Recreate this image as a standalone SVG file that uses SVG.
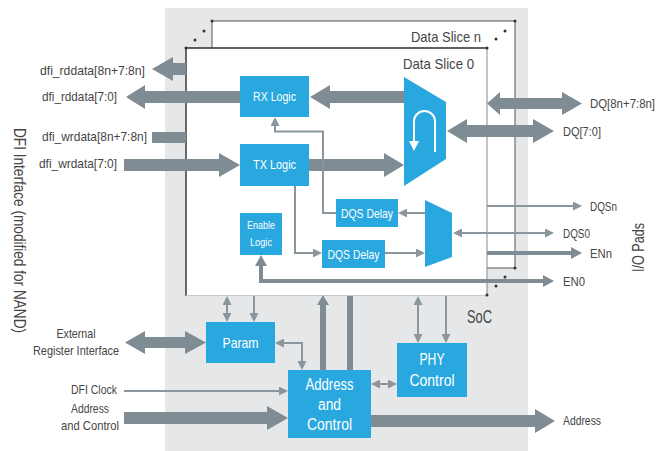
<svg xmlns="http://www.w3.org/2000/svg" width="666" height="451" viewBox="0 0 666 451">
<style>
text{font-family:"Liberation Sans",Arial,sans-serif;fill:#454545}
.w{fill:#ffffff}
.blk{fill:#29a8e0}
.big{fill:#7f8c93}
.ln{fill:none;stroke:#8a969c;stroke-width:2}
.lt{fill:none;stroke:#7f8c93;stroke-width:4}
.dot{fill:#333}
</style>
<defs>
<marker id="ah" markerUnits="userSpaceOnUse" markerWidth="9" markerHeight="9" viewBox="0 0 9 9" refX="0" refY="4.5" orient="auto-start-reverse"><path d="M0,0L9,4.5L0,9z" fill="#8a969c"/></marker>
<marker id="at" markerUnits="userSpaceOnUse" markerWidth="11" markerHeight="12" viewBox="0 0 11 12" refX="0" refY="6" orient="auto-start-reverse"><path d="M0,0L11,6L0,12z" fill="#7f8c93"/></marker>
</defs>
<rect id="soc" x="165" y="8" width="363" height="443" fill="#e6e7e8"/>
<g id="slice-n">
<rect x="212" y="21" width="303" height="247" fill="#fff"/>
<path d="M212,48V21H515V268H487" fill="none" stroke="#555" stroke-width="1"/>
</g>
<g id="slice-0">
<rect x="186" y="48" width="301" height="247" fill="#fff"/>
<path d="M186,296V48H487" fill="none" stroke="#2e2e2e" stroke-width="1.4"/>
<path d="M487,48V295" fill="none" stroke="#888" stroke-width="1"/>
<path d="M487,295.5H186" fill="none" stroke="#c8cacc" stroke-width="1"/>
</g>
<g id="dots">
<circle class="dot" cx="212" cy="21" r="1.5"/><circle class="dot" cx="204" cy="31" r="1.5"/><circle class="dot" cx="195" cy="40" r="1.5"/><circle class="dot" cx="186" cy="48" r="1.5"/>
<circle class="dot" cx="515" cy="21" r="1.5"/><circle class="dot" cx="505" cy="31" r="1.5"/><circle class="dot" cx="496" cy="39" r="1.5"/><circle class="dot" cx="487" cy="48" r="1.5"/>
<circle class="dot" cx="515" cy="268" r="1.5"/><circle class="dot" cx="505" cy="277" r="1.5"/><circle class="dot" cx="496" cy="286" r="1.5"/><circle class="dot" cx="487" cy="295" r="1.5"/>
</g>
<g id="connectors">
<polygon class="big" points="186,63 173,63 173,57 152,69 173,81 173,75 186,75"/>
<polygon class="big" points="240,91 145,91 145,85 126,97 145,109 145,103 240,103"/>
<polygon class="big" points="406,91 330,91 330,85 310,97 330,109 330,103 406,103"/>
<rect class="big" x="152" y="132" width="34" height="11"/>
<polygon class="big" points="124,159 219,159 219,153 240,165 219,177 219,171 124,171"/>
<polygon class="big" points="309,159 384,159 384,153 404,165 384,177 384,171 309,171"/>
<polygon class="big" points="447,131 467,119 467,125 533,125 533,119 554,131 533,143 533,137 467,137 467,143"/>
<polygon class="big" points="487,103.5 500,92 500,98 562,98 562,92 582,103.5 562,115 562,109 500,109 500,115"/>
<polygon class="big" points="125,342.5 145,331 145,337 185,337 185,331 206,342.5 185,354 185,348 145,348 145,354"/>
<polygon class="big" points="124,412 267,412 267,406 288,418 267,430 267,424 124,424"/>
<polygon class="big" points="371,415 535,415 535,409 555,421 535,433 535,427 371,427"/>
<polygon class="big" points="320,370 320,305 317,305 323,295 329,305 326,305 326,370"/>
<rect class="big" x="347" y="296" width="6" height="74"/>
<path class="ln" d="M425,213H407" marker-end="url(#ah)"/>
<path class="ln" d="M336,213H323V131.5H275V126" marker-end="url(#ah)"/>
<path class="ln" d="M295,186V253H313" marker-end="url(#ah)"/>
<path class="ln" d="M385,253H416" marker-end="url(#ah)"/>
<path class="ln" d="M462,233H545" marker-start="url(#ah)" marker-end="url(#ah)"/>
<path class="ln" d="M487,206H573" marker-end="url(#ah)"/>
<path class="lt" d="M487,253H571" marker-end="url(#at)"/>
<path class="lt" d="M261,266V281H543" marker-start="url(#at)" marker-end="url(#at)"/>
<path class="ln" d="M227,305V313" marker-start="url(#ah)" marker-end="url(#ah)"/>
<path class="ln" d="M254,296V313" marker-end="url(#ah)"/>
<path class="ln" d="M284,343H302V361" marker-start="url(#ah)" marker-end="url(#ah)"/>
<path class="ln" d="M124,391H279" marker-end="url(#ah)"/>
<path class="ln" d="M380,384H388" marker-start="url(#ah)" marker-end="url(#ah)"/>
<path class="ln" d="M418,305V334" marker-start="url(#ah)" marker-end="url(#ah)"/>
<path class="ln" d="M446,296V334" marker-end="url(#ah)"/>
</g>
<g id="rx-logic"><rect class="blk" x="240" y="76" width="69" height="41"/><text class="w" x="274.5" y="101" font-size="13.5" text-anchor="middle" textLength="43" lengthAdjust="spacingAndGlyphs">RX Logic</text></g>
<g id="tx-logic"><rect class="blk" x="240" y="144" width="69" height="42"/><text class="w" x="274.5" y="169" font-size="13.5" text-anchor="middle" textLength="43" lengthAdjust="spacingAndGlyphs">TX Logic</text></g>
<g id="mux-dq"><polygon class="blk" points="404,77 446,102 446,159 404,186"/>
<path d="M435,152V121.5A10.5,10.5 0 0 0 414,121.5V142" fill="none" stroke="#fff" stroke-width="2"/>
<polygon points="409,141 419,141 414,151" fill="#fff"/></g>
<g id="dqs-delay-1"><rect class="blk" x="336" y="199" width="62" height="28"/><text class="w" x="367" y="217.5" font-size="13" text-anchor="middle" textLength="52" lengthAdjust="spacingAndGlyphs">DQS Delay</text></g>
<g id="dqs-delay-2"><rect class="blk" x="322" y="240" width="63" height="28"/><text class="w" x="353.5" y="258.5" font-size="13" text-anchor="middle" textLength="52" lengthAdjust="spacingAndGlyphs">DQS Delay</text></g>
<g id="mux-dqs"><polygon class="blk" points="425,200 452,213 452,257 425,267"/></g>
<g id="enable-logic"><rect class="blk" x="240" y="213" width="42" height="42"/>
<text class="w" x="261" y="229" font-size="10.5" text-anchor="middle" textLength="28" lengthAdjust="spacingAndGlyphs">Enable</text>
<text class="w" x="261" y="246" font-size="10.5" text-anchor="middle" textLength="22" lengthAdjust="spacingAndGlyphs">Logic</text></g>
<g id="param"><rect class="blk" x="206" y="322" width="69" height="41"/><text class="w" x="240.5" y="347.5" font-size="14.5" text-anchor="middle" textLength="36" lengthAdjust="spacingAndGlyphs">Param</text></g>
<g id="addr-ctrl"><rect class="blk" x="288" y="370" width="83" height="68"/>
<text class="w" x="329.5" y="390" font-size="16" text-anchor="middle" textLength="48" lengthAdjust="spacingAndGlyphs">Address</text>
<text class="w" x="329.5" y="410" font-size="16" text-anchor="middle" textLength="23" lengthAdjust="spacingAndGlyphs">and</text>
<text class="w" x="329.5" y="430" font-size="16" text-anchor="middle" textLength="45" lengthAdjust="spacingAndGlyphs">Control</text></g>
<g id="phy-ctrl"><rect class="blk" x="397" y="343" width="70" height="54"/>
<text class="w" x="432" y="365" font-size="16" text-anchor="middle" textLength="25" lengthAdjust="spacingAndGlyphs">PHY</text>
<text class="w" x="432" y="386" font-size="16" text-anchor="middle" textLength="45" lengthAdjust="spacingAndGlyphs">Control</text></g>
<g id="labels">
<text x="411" y="42" font-size="14.5" textLength="70" lengthAdjust="spacingAndGlyphs">Data Slice n</text>
<text x="403" y="69" font-size="14.5" textLength="71" lengthAdjust="spacingAndGlyphs">Data Slice 0</text>
<text x="467" y="323" font-size="19" textLength="25" lengthAdjust="spacingAndGlyphs">SoC</text>
<text x="40" y="75" font-size="13" textLength="105" lengthAdjust="spacingAndGlyphs">dfi_rddata[8n+7:8n]</text>
<text x="42" y="101" font-size="13" textLength="75" lengthAdjust="spacingAndGlyphs">dfi_rddata[7:0]</text>
<text x="42" y="141" font-size="13" textLength="105" lengthAdjust="spacingAndGlyphs">dfi_wrdata[8n+7:8n]</text>
<text x="39" y="168" font-size="13" textLength="78" lengthAdjust="spacingAndGlyphs">dfi_wrdata[7:0]</text>
<text x="76" y="338" font-size="13" text-anchor="middle" textLength="39" lengthAdjust="spacingAndGlyphs">External</text>
<text x="76" y="355" font-size="13" text-anchor="middle" textLength="86" lengthAdjust="spacingAndGlyphs">Register Interface</text>
<text x="71" y="394" font-size="13" textLength="46" lengthAdjust="spacingAndGlyphs">DFI Clock</text>
<text x="90" y="413" font-size="13" text-anchor="middle" textLength="38" lengthAdjust="spacingAndGlyphs">Address</text>
<text x="90" y="430" font-size="13" text-anchor="middle" textLength="58" lengthAdjust="spacingAndGlyphs">and Control</text>
<text x="590" y="108" font-size="13" textLength="65" lengthAdjust="spacingAndGlyphs">DQ[8n+7:8n]</text>
<text x="563" y="136" font-size="13" textLength="38" lengthAdjust="spacingAndGlyphs">DQ[7:0]</text>
<text x="590" y="210.5" font-size="13" textLength="27" lengthAdjust="spacingAndGlyphs">DQSn</text>
<text x="563" y="237.5" font-size="13" textLength="27" lengthAdjust="spacingAndGlyphs">DQS0</text>
<text x="590" y="258" font-size="13" textLength="22" lengthAdjust="spacingAndGlyphs">ENn</text>
<text x="563" y="286" font-size="13" textLength="22" lengthAdjust="spacingAndGlyphs">EN0</text>
<text x="563" y="425" font-size="13" textLength="38" lengthAdjust="spacingAndGlyphs">Address</text>
<text transform="translate(644,247.5) rotate(-90)" font-size="17" text-anchor="middle" textLength="49" lengthAdjust="spacingAndGlyphs">I/O Pads</text>
<text transform="translate(14,230.5) rotate(90)" font-size="17" text-anchor="middle" textLength="205" lengthAdjust="spacingAndGlyphs">DFI Interface (modified for NAND)</text>
</g>
</svg>
